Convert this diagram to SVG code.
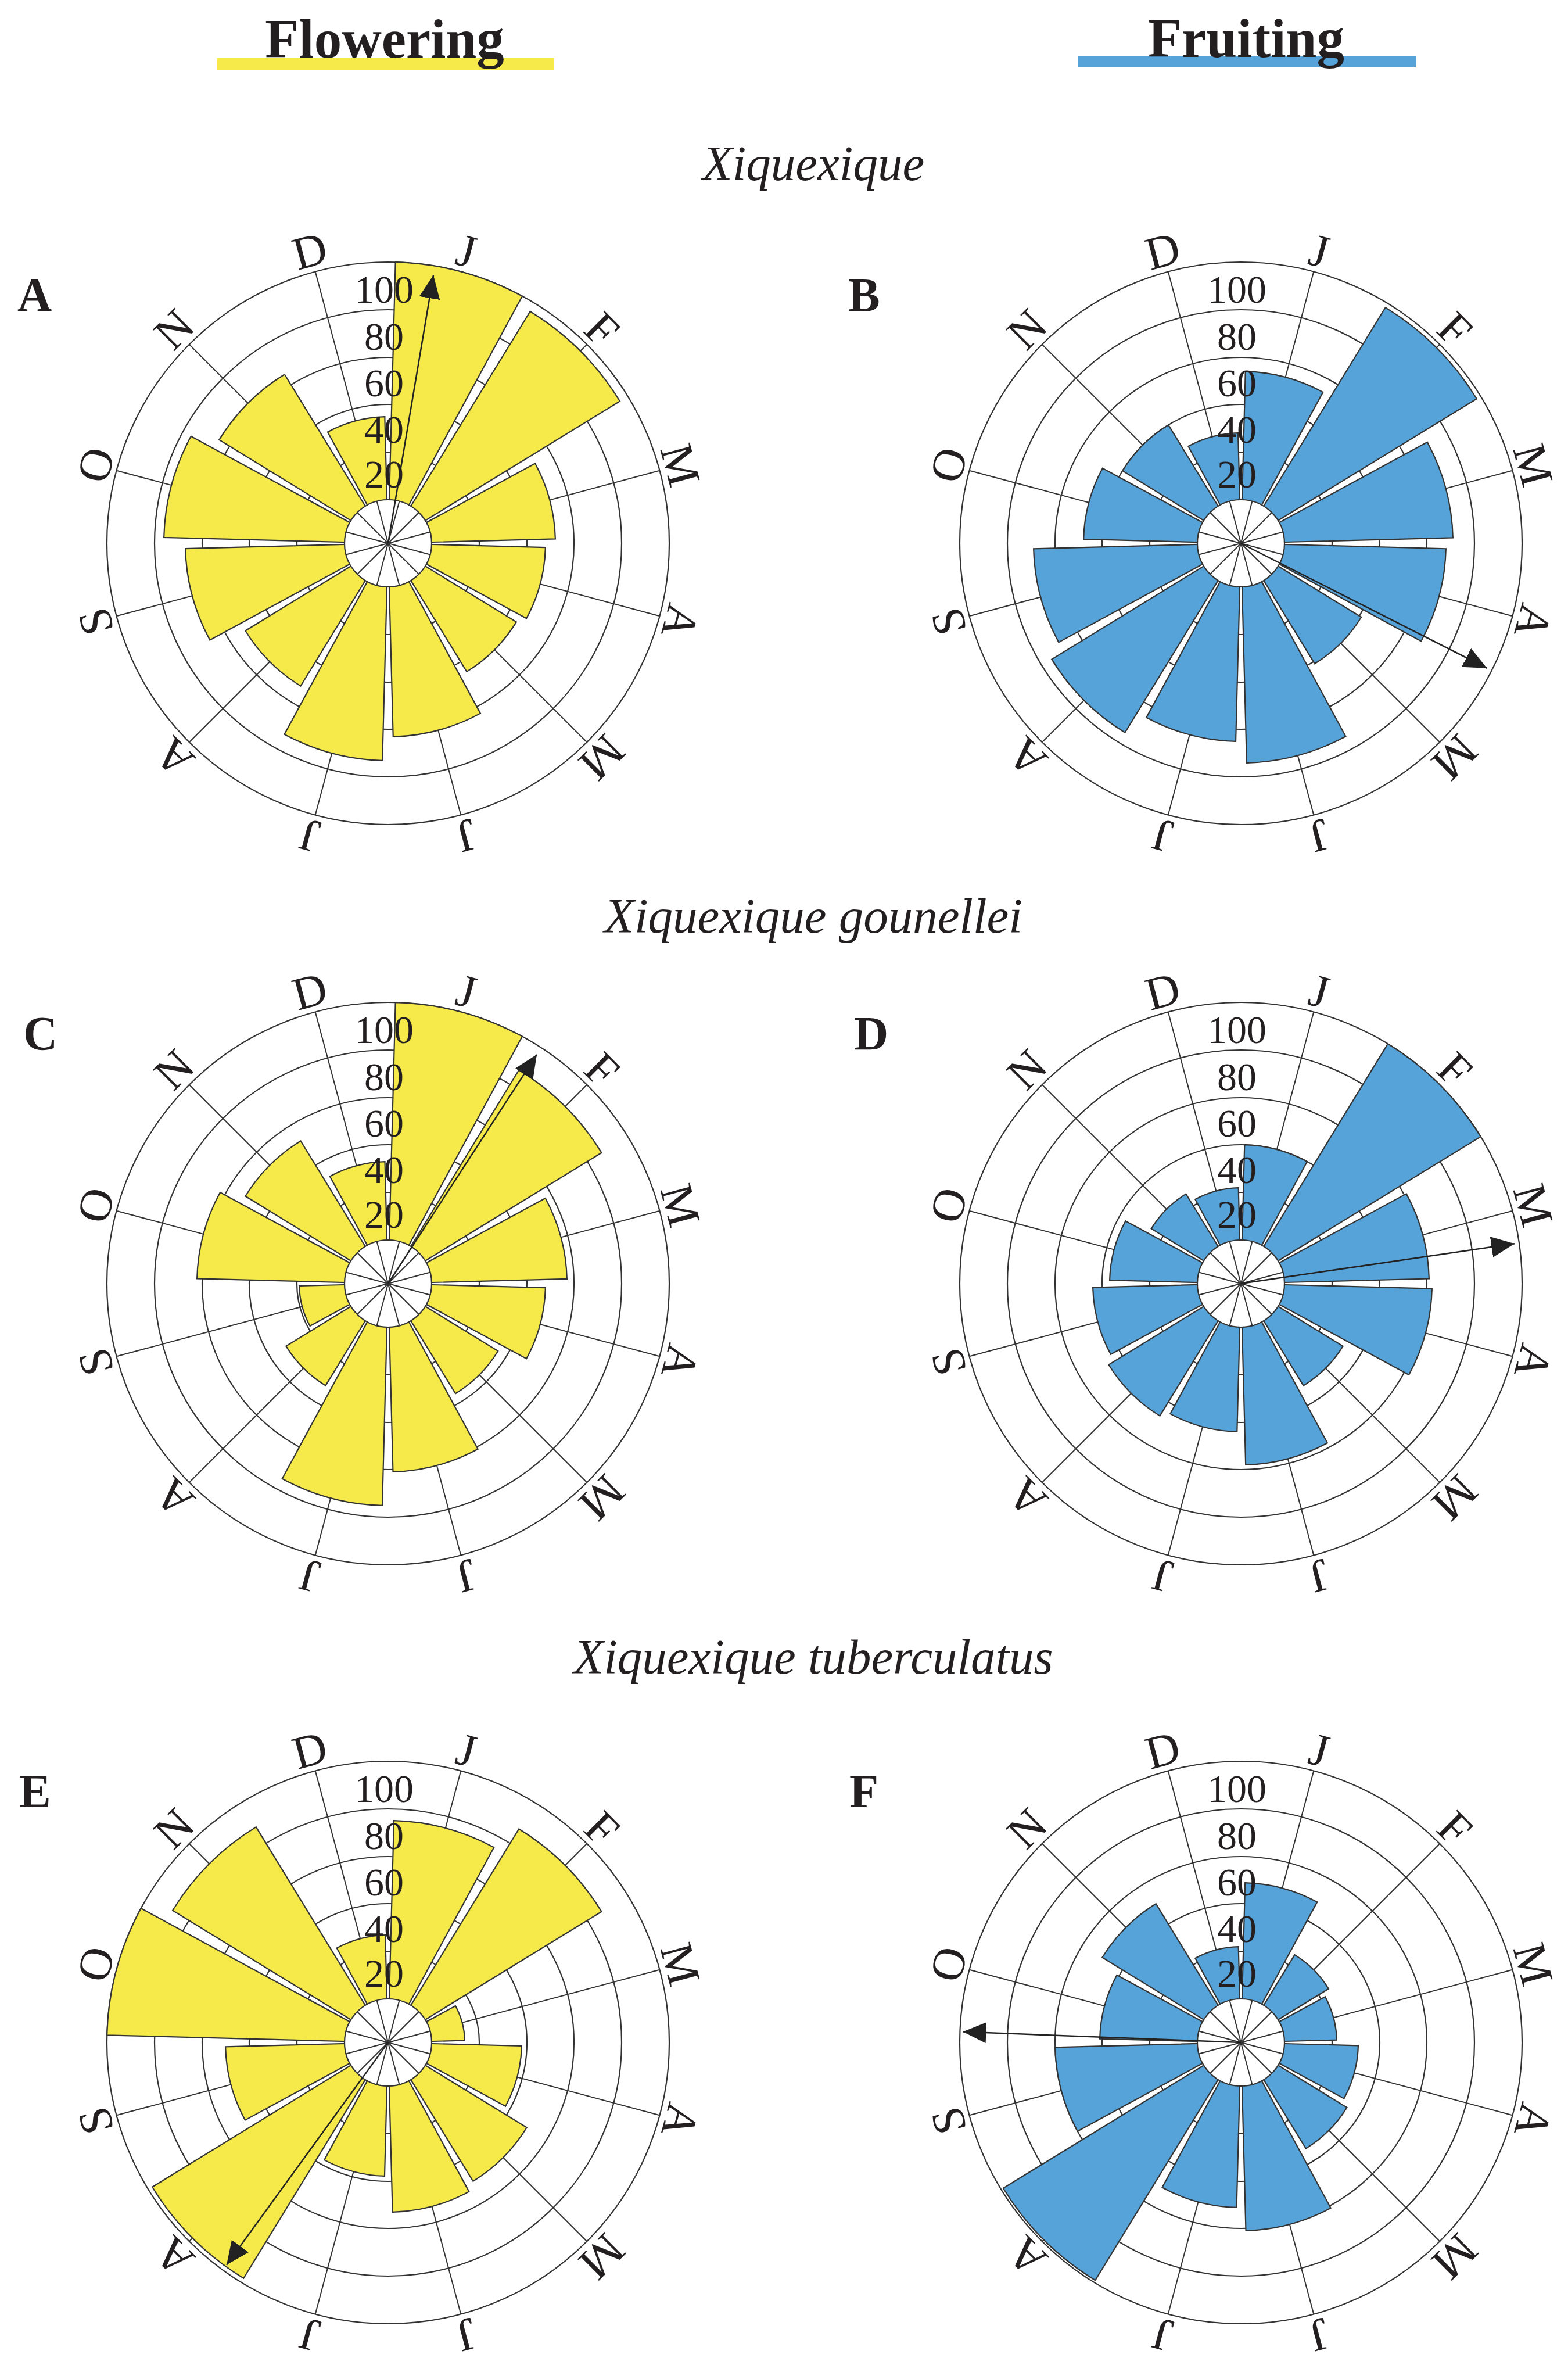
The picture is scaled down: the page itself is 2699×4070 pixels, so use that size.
<svg xmlns="http://www.w3.org/2000/svg" width="2699" height="4070" viewBox="0 0 2699 4070">
<style>
text{font-family:"Liberation Serif","DejaVu Serif",serif;fill:#231f20}
.g{fill:none;stroke:#333;stroke-width:2.2}
.sp{stroke:#333;stroke-width:2}
.y{fill:#f5ea4a}
.b{fill:#56a3d9}
.in{fill:#fff;stroke:#333;stroke-width:2.2}
.ar{stroke:#222;stroke-width:2.5;marker-end:url(#ah)}
.sc{font-size:68px;text-anchor:middle}
.mo{font-size:80px;text-anchor:middle}
.pl{font-size:82px;font-weight:bold}
.sp2{font-size:85px;font-style:italic;text-anchor:middle}
.tt{font-size:95px;font-weight:bold;text-anchor:middle}
</style>
<defs>
<path id="w" d="M0,0 L-0.23345,-0.97237 A1,1 0 0 1 0.23345,-0.97237 Z" stroke="#333" stroke-width="2.2" vector-effect="non-scaling-stroke"/>
<marker id="ah" markerUnits="userSpaceOnUse" markerWidth="44" markerHeight="40" refX="40" refY="18" orient="auto"><path d="M0,0 L40,18 L0,36 Z" fill="#222"/></marker>
<g id="grid">
<circle class="g" r="157"/><circle class="g" r="239"/><circle class="g" r="320"/><circle class="g" r="402"/><circle class="g" r="484"/>
<g class="sp">
<line y2="-484" transform="rotate(15)"/><line y2="-484" transform="rotate(45)"/><line y2="-484" transform="rotate(75)"/><line y2="-484" transform="rotate(105)"/><line y2="-484" transform="rotate(135)"/><line y2="-484" transform="rotate(165)"/><line y2="-484" transform="rotate(195)"/><line y2="-484" transform="rotate(225)"/><line y2="-484" transform="rotate(255)"/><line y2="-484" transform="rotate(285)"/><line y2="-484" transform="rotate(315)"/><line y2="-484" transform="rotate(345)"/>
</g>
</g>
<g id="hub">
<circle class="in" r="75"/>
<g class="sp">
<line y2="-75" transform="rotate(15)"/><line y2="-75" transform="rotate(45)"/><line y2="-75" transform="rotate(75)"/><line y2="-75" transform="rotate(105)"/><line y2="-75" transform="rotate(135)"/><line y2="-75" transform="rotate(165)"/><line y2="-75" transform="rotate(195)"/><line y2="-75" transform="rotate(225)"/><line y2="-75" transform="rotate(255)"/><line y2="-75" transform="rotate(285)"/><line y2="-75" transform="rotate(315)"/><line y2="-75" transform="rotate(345)"/>
</g>
</g>
<g id="labels">
<text class="sc" x="-7" y="-414">100</text><text class="sc" x="-7" y="-333">80</text><text class="sc" x="-7" y="-253">60</text><text class="sc" x="-7" y="-173">40</text><text class="sc" x="-7" y="-96">20</text>
<text class="mo" transform="rotate(15) translate(0,-494)">J</text>
<text class="mo" transform="rotate(45) translate(0,-494)">F</text>
<text class="mo" transform="rotate(75) translate(0,-494)">M</text>
<text class="mo" transform="rotate(105) translate(0,-494)">A</text>
<text class="mo" transform="rotate(135) translate(0,-494)">M</text>
<text class="mo" transform="rotate(165) translate(0,-494)">J</text>
<text class="mo" transform="rotate(195) translate(0,-494)">J</text>
<text class="mo" transform="rotate(225) translate(0,-494)">A</text>
<text class="mo" transform="rotate(255) translate(0,-494)">S</text>
<text class="mo" transform="rotate(285) translate(0,-494)">O</text>
<text class="mo" transform="rotate(315) translate(0,-494)">N</text>
<text class="mo" transform="rotate(345) translate(0,-494)">D</text>
</g>
</defs>
<rect width="2699" height="4070" fill="#fff"/>

<g id="header">
<rect x="373" y="100" width="581" height="20" fill="#f5ea4a"/>
<text class="tt" x="662" y="99">Flowering</text>
<rect x="1856" y="96" width="581" height="20" fill="#56a3d9"/>
<text class="tt" x="2145" y="98">Fruiting</text>
<text class="sp2" x="1400" y="310">Xiquexique</text>
<text class="sp2" x="1400" y="1605">Xiquexique gounellei</text>
<text class="sp2" x="1400" y="2880">Xiquexique tuberculatus</text>
</g>

<g id="panelA" transform="translate(668,935)">
<use href="#grid"/>
<g class="y">
<use href="#w" transform="rotate(15) scale(484)"/><use href="#w" transform="rotate(45) scale(468)"/><use href="#w" transform="rotate(75) scale(288)"/><use href="#w" transform="rotate(105) scale(271)"/><use href="#w" transform="rotate(135) scale(259)"/><use href="#w" transform="rotate(165) scale(333)"/><use href="#w" transform="rotate(195) scale(374)"/><use href="#w" transform="rotate(225) scale(288)"/><use href="#w" transform="rotate(255) scale(349)"/><use href="#w" transform="rotate(285) scale(386)"/><use href="#w" transform="rotate(315) scale(341)"/><use href="#w" transform="rotate(345) scale(218)"/>
</g>
<use href="#hub"/>
<line class="ar" y2="-468" transform="rotate(9.6)"/>
<use href="#labels"/>
</g>
<text class="pl" x="30" y="535">A</text>

<g id="panelB" transform="translate(2136,935)">
<use href="#grid"/>
<g class="b">
<use href="#w" transform="rotate(15) scale(296)"/><use href="#w" transform="rotate(45) scale(476)"/><use href="#w" transform="rotate(75) scale(365)"/><use href="#w" transform="rotate(105) scale(353)"/><use href="#w" transform="rotate(135) scale(243)"/><use href="#w" transform="rotate(165) scale(378)"/><use href="#w" transform="rotate(195) scale(341)"/><use href="#w" transform="rotate(225) scale(382)"/><use href="#w" transform="rotate(255) scale(357)"/><use href="#w" transform="rotate(285) scale(271)"/><use href="#w" transform="rotate(315) scale(239)"/><use href="#w" transform="rotate(345) scale(190)"/>
</g>
<use href="#hub"/>
<line class="ar" y2="-475" transform="rotate(116.9)"/>
<use href="#labels"/>
</g>
<text class="pl" x="1460" y="535">B</text>

<g id="panelC" transform="translate(668,2209)">
<use href="#grid"/>
<g class="y">
<use href="#w" transform="rotate(15) scale(484)"/><use href="#w" transform="rotate(45) scale(431)"/><use href="#w" transform="rotate(75) scale(308)"/><use href="#w" transform="rotate(105) scale(271)"/><use href="#w" transform="rotate(135) scale(222)"/><use href="#w" transform="rotate(165) scale(324)"/><use href="#w" transform="rotate(195) scale(382)"/><use href="#w" transform="rotate(225) scale(206)"/><use href="#w" transform="rotate(255) scale(153)"/><use href="#w" transform="rotate(285) scale(329)"/><use href="#w" transform="rotate(315) scale(288)"/><use href="#w" transform="rotate(345) scale(210)"/>
</g>
<use href="#hub"/>
<line class="ar" y2="-470" transform="rotate(33)"/>
<use href="#labels"/>
</g>
<text class="pl" x="40" y="1806">C</text>

<g id="panelD" transform="translate(2136,2209)">
<use href="#grid"/>
<g class="b">
<use href="#w" transform="rotate(15) scale(239)"/><use href="#w" transform="rotate(45) scale(484)"/><use href="#w" transform="rotate(75) scale(324)"/><use href="#w" transform="rotate(105) scale(329)"/><use href="#w" transform="rotate(135) scale(206)"/><use href="#w" transform="rotate(165) scale(312)"/><use href="#w" transform="rotate(195) scale(255)"/><use href="#w" transform="rotate(225) scale(267)"/><use href="#w" transform="rotate(255) scale(255)"/><use href="#w" transform="rotate(285) scale(226)"/><use href="#w" transform="rotate(315) scale(181)"/><use href="#w" transform="rotate(345) scale(165)"/>
</g>
<use href="#hub"/>
<line class="ar" y2="-476" transform="rotate(81.7)"/>
<use href="#labels"/>
</g>
<text class="pl" x="1470" y="1806">D</text>

<g id="panelE" transform="translate(668,3515)">
<use href="#grid"/>
<g class="y">
<use href="#w" transform="rotate(15) scale(382)"/><use href="#w" transform="rotate(45) scale(431)"/><use href="#w" transform="rotate(75) scale(132)"/><use href="#w" transform="rotate(105) scale(230)"/><use href="#w" transform="rotate(135) scale(280)"/><use href="#w" transform="rotate(165) scale(292)"/><use href="#w" transform="rotate(195) scale(230)"/><use href="#w" transform="rotate(225) scale(476)"/><use href="#w" transform="rotate(255) scale(280)"/><use href="#w" transform="rotate(285) scale(484)"/><use href="#w" transform="rotate(315) scale(435)"/><use href="#w" transform="rotate(345) scale(185)"/>
</g>
<use href="#hub"/>
<line class="ar" y2="-473" transform="rotate(216)"/>
<use href="#labels"/>
</g>
<text class="pl" x="33" y="3110">E</text>

<g id="panelF" transform="translate(2136,3515)">
<use href="#grid"/>
<g class="b">
<use href="#w" transform="rotate(15) scale(275)"/><use href="#w" transform="rotate(45) scale(177)"/><use href="#w" transform="rotate(75) scale(165)"/><use href="#w" transform="rotate(105) scale(202)"/><use href="#w" transform="rotate(135) scale(214)"/><use href="#w" transform="rotate(165) scale(324)"/><use href="#w" transform="rotate(195) scale(284)"/><use href="#w" transform="rotate(225) scale(480)"/><use href="#w" transform="rotate(255) scale(320)"/><use href="#w" transform="rotate(285) scale(243)"/><use href="#w" transform="rotate(315) scale(280)"/><use href="#w" transform="rotate(345) scale(165)"/>
</g>
<use href="#hub"/>
<line class="ar" y2="-479" transform="rotate(272.2)"/>
<use href="#labels"/>
</g>
<text class="pl" x="1462" y="3110">F</text>
</svg>
